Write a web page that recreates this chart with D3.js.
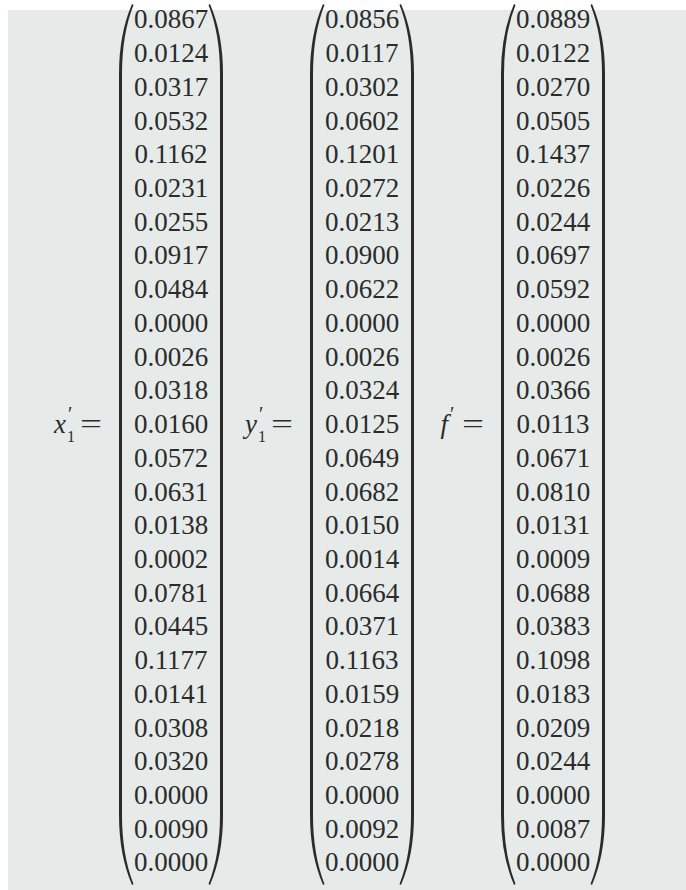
<!DOCTYPE html>
<html>
<head>
<meta charset="utf-8">
<script src="https://cdn.jsdelivr.net/npm/d3@7"></script>
<style>
  html, body { margin: 0; padding: 0; background: #ffffff; }
  svg { display: block; }
</style>
</head>
<body>
<svg id="chart" width="686" height="890"></svg>
<script>
const xPrime = ['0.0867', '0.0124', '0.0317', '0.0532', '0.1162', '0.0231', '0.0255', '0.0917', '0.0484', '0.0000', '0.0026', '0.0318', '0.0160', '0.0572', '0.0631', '0.0138', '0.0002', '0.0781', '0.0445', '0.1177', '0.0141', '0.0308', '0.0320', '0.0000', '0.0090', '0.0000'];
const yPrime = ['0.0856', '0.0117', '0.0302', '0.0602', '0.1201', '0.0272', '0.0213', '0.0900', '0.0622', '0.0000', '0.0026', '0.0324', '0.0125', '0.0649', '0.0682', '0.0150', '0.0014', '0.0664', '0.0371', '0.1163', '0.0159', '0.0218', '0.0278', '0.0000', '0.0092', '0.0000'];
const fPrime = ['0.0889', '0.0122', '0.0270', '0.0505', '0.1437', '0.0226', '0.0244', '0.0697', '0.0592', '0.0000', '0.0026', '0.0366', '0.0113', '0.0671', '0.0810', '0.0131', '0.0009', '0.0688', '0.0383', '0.1098', '0.0183', '0.0209', '0.0244', '0.0000', '0.0087', '0.0000'];
const vectorNames = ['x', 'y', 'f'];
const labelSubs = ['1', '1', null];

const vectors = [
  { name: 'x', values: xPrime, sub: labelSubs[0] },
  { name: 'y', values: yPrime, sub: labelSubs[1] },
  { name: 'f', values: fPrime, sub: labelSubs[2] }
];

const svg = d3.select('#chart');
const width = 686;
const height = 890;

svg.append('rect')
  .attr('x', 8).attr('y', 10)
  .attr('width', width - 8).attr('height', height - 10)
  .attr('fill', '#e6ebe9');

const rowCount = xPrime.length;
const y = d3.scalePoint()
  .domain(d3.range(rowCount))
  .range([19, 862]);

const col = d3.scalePoint()
  .domain(vectorNames)
  .range([171, 553]);

const halfText = 38;
const font = '"Liberation Serif", "Times New Roman", serif';
const ink = '#2b2b2b';

function paren(x0, yT, yB, dir) {
  // dir = 1 for "(", -1 for ")"
  const d = dir;
  const c = 70, q = 30, w = 13, t = 3;
  return [
    `M${x0 + d * w},${yT}`,
    `Q${x0},${yT + q} ${x0},${yT + c}`,
    `L${x0},${yB - c}`,
    `Q${x0},${yB - q} ${x0 + d * w},${yB}`,
    `L${x0 + d * (w + 1.5)},${yB - 1}`,
    `Q${x0 + d * t},${yB - q} ${x0 + d * t},${yB - c}`,
    `L${x0 + d * t},${yT + c}`,
    `Q${x0 + d * t},${yT + q} ${x0 + d * (w + 1.5)},${yT + 1}`,
    'Z'
  ].join(' ');
}

const yTop = y(0) - 15;
const yBot = y(rowCount - 1) + 23;

const groups = svg.selectAll('g.vec')
  .data(vectors)
  .join('g')
  .attr('class', 'vec');

groups.append('path')
  .attr('d', (d) => paren(col(d.name) - halfText - 14, yTop, yBot, 1))
  .attr('fill', ink);

groups.append('path')
  .attr('d', (d) => paren(col(d.name) + halfText + 14, yTop, yBot, -1))
  .attr('fill', ink);

groups.each(function (v) {
  d3.select(this)
    .selectAll('text.val')
    .data(v.values)
    .join('text')
    .attr('class', 'val')
    .attr('x', col(v.name))
    .attr('y', (_, i) => y(i))
    .attr('dy', '0.35em')
    .attr('text-anchor', 'middle')
    .attr('font-family', font)
    .attr('font-size', 27)
    .attr('fill', ink)
    .text((d) => d);
});

// labels: x'_1 =, y'_1 =, f' =
const midY = y(12) + 9;
groups.each(function (v) {
  const g = d3.select(this);
  const eqEnd = col(v.name) - halfText - 31;
  const eqStart = eqEnd - 22;
  const baseEnd = eqStart - 14;

  g.append('text')
    .attr('x', eqStart).attr('y', midY)
    .attr('font-family', font).attr('font-size', 27).attr('fill', ink)
    .attr('textLength', 22).attr('lengthAdjust', 'spacingAndGlyphs')
    .text('=');

  g.append('text')
    .attr('x', baseEnd).attr('y', midY)
    .attr('text-anchor', 'end')
    .attr('font-family', font).attr('font-size', 27).attr('font-style', 'italic').attr('fill', ink)
    .text(v.name);

  g.append('text')
    .attr('x', baseEnd + 2).attr('y', midY - 12)
    .attr('font-family', font).attr('font-size', 20).attr('fill', ink)
    .text('′');

  if (v.sub) {
    g.append('text')
      .attr('x', baseEnd + 1).attr('y', midY + 9)
      .attr('font-family', font).attr('font-size', 16).attr('fill', ink)
      .text(v.sub);
  }
});
</script>
</body>
</html>
